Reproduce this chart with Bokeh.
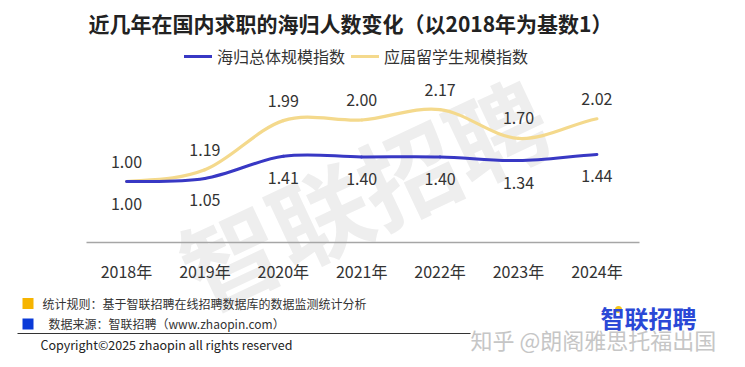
from bokeh.plotting import figure
from bokeh.models import (Range1d, LinearAxis, FixedTicker, Label, Legend,
                          LegendItem, ColumnDataSource)
from bokeh.core.properties import value
from bokeh.embed import file_html
from bokeh.resources import INLINE

# ---------------- data ----------------
years = ["2018年", "2019年", "2020年", "2021年", "2022年", "2023年", "2024年"]
overall_index = [1.00, 1.05, 1.41, 1.40, 1.40, 1.34, 1.44]     # 海归总体规模指数
graduate_index = [1.00, 1.19, 1.99, 2.00, 2.17, 1.70, 2.02]    # 应届留学生规模指数
series_names = ["海归总体规模指数", "应届留学生规模指数"]

title_text = "近几年在国内求职的海归人数变化（以2018年为基数1）"
note_rule = "统计规则：基于智联招聘在线招聘数据库的数据监测统计分析"
note_source = "数据来源：智联招聘（www.zhaopin.com）"
copyright_text = "Copyright©2025 zhaopin all rights reserved"
brand_text = "智联招聘"
zhihu_text = "知乎 @朗阁雅思托福出国"

# ---------------- layout helpers ----------------
W, H = 745, 367
X0, DX = 126.0, 78.4      # pixel of first category, pixel step
Y1, DY = 181.0, 61.5      # pixel of value 1.0, pixels per unit

def X(px):
    return (px - X0) / DX

def Y(py):
    return 1.0 + (Y1 - py) / DY

FONT = "Noto Sans CJK SC"
TXT = "#333333"
BLUE = "#3838c4"
YELLOW = "#f4d98c"

p = figure(width=W, height=H,
           x_range=Range1d(X(0), X(W)), y_range=Range1d(Y(H), Y(0)),
           x_axis_type=None, y_axis_type=None,
           toolbar_location=None, output_backend="svg",
           min_border=0, outline_line_color=None,
           background_fill_color="white", border_fill_color="white")

# x axis drawn at a fixed data location inside the frame
idx = list(range(len(years)))
ax = LinearAxis(ticker=FixedTicker(ticks=idx),
                major_label_overrides={i: y for i, y in zip(idx, years)},
                fixed_location=Y(242), bounds=(X(86), X(639)),
                axis_line_color="#a6a6a6", axis_line_width=1.6,
                major_tick_line_color=None, minor_tick_line_color=None,
                major_label_text_font_size="16px",
                major_label_text_color=TXT,
                major_label_text_font=FONT,
                major_label_standoff=10)
p.add_layout(ax, "below")

# big diagonal watermark behind the lines
p.add_layout(Label(x=X(362), y=Y(190), text=brand_text, angle=0.44,
                   text_align="center", text_baseline="middle",
                   text_font=FONT, text_font_size="98px", text_font_style="bold",
                   text_color="#eeeeee", level="underlay"))


def smooth(vals):
    n = len(vals)
    m = []
    for i in range(n):
        if i == 0:
            m.append((vals[1] - vals[0]) * 0.5)
        elif i == n - 1:
            m.append((vals[-1] - vals[-2]) * 0.8)
        else:
            m.append((vals[i + 1] - vals[i - 1]) / 2.0)
    d = dict(x0=[], y0=[], x1=[], y1=[], cx0=[], cy0=[], cx1=[], cy1=[])
    for i in range(n - 1):
        d["x0"].append(i)
        d["y0"].append(vals[i])
        d["x1"].append(i + 1)
        d["y1"].append(vals[i + 1])
        d["cx0"].append(i + 1 / 3)
        d["cy0"].append(vals[i] + m[i] / 3)
        d["cx1"].append(i + 1 - 1 / 3)
        d["cy1"].append(vals[i + 1] - m[i + 1] / 3)
    return ColumnDataSource(d)


r_yellow = p.bezier(x0="x0", y0="y0", x1="x1", y1="y1", cx0="cx0", cy0="cy0",
                    cx1="cx1", cy1="cy1", source=smooth(graduate_index),
                    line_color=YELLOW, line_width=3.2, line_cap="round")
r_blue = p.bezier(x0="x0", y0="y0", x1="x1", y1="y1", cx0="cx0", cy0="cy0",
                  cx1="cx1", cy1="cy1", source=smooth(overall_index),
                  line_color=BLUE, line_width=3, line_cap="round")

# value labels
p.text(x=idx, y=graduate_index, text=["%.2f" % v for v in graduate_index],
       y_offset=-20, text_align="center", text_baseline="middle",
       text_font=value(FONT), text_font_size="16px", text_color=TXT)
p.text(x=idx, y=overall_index, text=["%.2f" % v for v in overall_index],
       y_offset=22, text_align="center", text_baseline="middle",
       text_font=value(FONT), text_font_size="16px", text_color=TXT)

# legend
legend = Legend(items=[LegendItem(label=series_names[0], renderers=[r_blue]),
                       LegendItem(label=series_names[1], renderers=[r_yellow])],
                orientation="horizontal", location=(184, H - 68),
                label_text_font=FONT, label_text_font_size="16px",
                label_text_color=TXT, glyph_width=28, glyph_height=20,
                label_height=20, label_standoff=5, spacing=6,
                padding=0, margin=0, border_line_alpha=0,
                background_fill_alpha=0)
p.add_layout(legend)

# title
p.add_layout(Label(x=X(88), y=Y(22), text=title_text, text_align="left",
                   text_baseline="middle", text_font=FONT,
                   text_font_size="21px", text_font_style="bold",
                   text_color="#222222"))

# footer
p.scatter(x=[X(27.5)], y=[Y(303)], marker="square", size=11,
          fill_color="#f6b400", line_color=None)
p.scatter(x=[X(27.5)], y=[Y(323.5)], marker="square", size=11,
          fill_color="#0a3ad8", line_color=None)
p.add_layout(Label(x=X(42), y=Y(303), text=note_rule, text_align="left",
                   text_baseline="middle", text_font=FONT,
                   text_font_size="12px", text_color=TXT))
p.add_layout(Label(x=X(48), y=Y(323), text=note_source, text_align="left",
                   text_baseline="middle", text_font=FONT,
                   text_font_size="12px", text_color=TXT))
p.segment(x0=[X(17)], y0=[Y(333)], x1=[X(470)], y1=[Y(333)],
          line_color="#333333", line_width=1.2)
p.add_layout(Label(x=X(40), y=Y(344), text=copyright_text, text_align="left",
                   text_baseline="middle", text_font=FONT,
                   text_font_size="12.5px", text_color="#222222"))
p.add_layout(Label(x=X(600), y=Y(317), text=brand_text, text_align="left",
                   text_baseline="middle", text_font=FONT,
                   text_font_size="24px", text_font_style="bold",
                   text_color="#2a48d6"))
p.scatter(x=[X(618)], y=[Y(309)], marker="circle", size=7,
          fill_color="#f5c518", line_color=None)
p.add_layout(Label(x=X(470), y=Y(338), text=zhihu_text, text_align="left",
                   text_baseline="middle", text_font=FONT,
                   text_font_size="22px", text_color="#c6c6c6"))

open("out.html", "w").write(file_html(p, INLINE))
